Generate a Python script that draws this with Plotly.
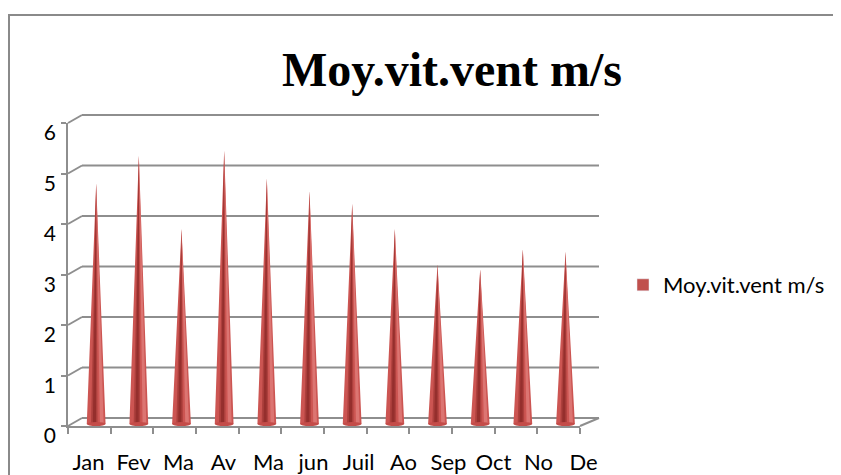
import plotly.graph_objects as go

# ---- data ----
months = ["Jan", "Fev", "Ma", "Av", "Ma", "jun", "Juil", "Ao", "Sep", "Oct", "No", "De"]
wind = [4.8, 5.35, 3.9, 5.45, 4.9, 4.65, 4.4, 3.9, 3.2, 3.1, 3.5, 3.45]
y_ticks = [0, 1, 2, 3, 4, 5, 6]
series_name = "Moy.vit.vent m/s"
title_text = "Moy.vit.vent m/s"

W, H = 841, 475
OFF = 8                                      # page body margin in the browser
PL, PR, PT, PB = 60, 610, 110, 440           # plot (paper) area, screen px
FX0, FX1, FY0, FY1 = 68, 580, 426, 123       # front axes box, screen px
DX_BACK_L, DX_BACK_R, DY_BACK = 82, 599, 8   # back wall
LAB_SHIFT = 10                               # y labels sit a little below ticks


def xp(px):
    return (px - PL) / (PR - PL)


def yp(py):
    return (PB - py) / (PB - PT)


def fy(v):  # data value -> front pixel y
    return FY0 + (FY1 - FY0) * v / 6.0


n = len(months)
CONE_OFF, CONE_W, BASE = 0.16, 0.22, 0.04


def cone_layer(lf, rf):
    xs, ys = [], []
    for i, v in enumerate(wind):
        c = i + CONE_OFF
        xs += [c + lf * CONE_W, c, c + rf * CONE_W, c + lf * CONE_W, None]
        ys += [BASE, v, BASE, BASE, None]
    return xs, ys


fig = go.Figure()

layers = [(-1.0, 1.0, "#cc5552"), (-0.55, 0.15, "#ad403d"), (-0.35, -0.02, "#952f2d"),
          (0.4, 0.8, "#dc7572")]
for lf, rf, col in layers:
    xs, ys = cone_layer(lf, rf)
    fig.add_trace(go.Scatter(x=xs, y=ys, mode="lines", fill="toself", fillcolor=col,
                             line=dict(width=0, color=col), showlegend=False,
                             hoverinfo="skip"))

# legend entry
fig.add_trace(go.Bar(x=[None], y=[None], name=series_name, marker_color="#c0504d",
                     showlegend=True))

# invisible trace for label axes
fig.add_trace(go.Scatter(x=list(range(n)), y=[0] * n, xaxis="x2", yaxis="y2",
                         mode="markers", marker=dict(opacity=0), showlegend=False,
                         hoverinfo="skip"))

shapes = []
GRID = dict(color="#8e8e8e", width=2)
# outer chart border
shapes.append(dict(type="rect", xref="paper", yref="paper",
                   x0=xp(9), x1=xp(870), y0=yp(500), y1=yp(15),
                   line=dict(color="#8a8a8a", width=2), layer="below"))
# back wall gridlines + side-wall connectors
for v in y_ticks:
    y_front = fy(v)
    y_back = y_front - DY_BACK
    shapes.append(dict(type="line", xref="paper", yref="paper",
                       x0=xp(DX_BACK_L), x1=xp(DX_BACK_R), y0=yp(y_back), y1=yp(y_back),
                       line=GRID, layer="below"))
    shapes.append(dict(type="line", xref="paper", yref="paper",
                       x0=xp(FX0), x1=xp(DX_BACK_L), y0=yp(y_front), y1=yp(y_back),
                       line=GRID, layer="below"))
# right floor edge
shapes.append(dict(type="line", xref="paper", yref="paper",
                   x0=xp(FX1), x1=xp(DX_BACK_R), y0=yp(fy(0)), y1=yp(fy(0) - DY_BACK),
                   line=GRID, layer="below"))
# cone base ellipses
for i, v in enumerate(wind):
    c = i + CONE_OFF
    shapes.append(dict(type="circle", xref="x", yref="y", x0=c - CONE_W, x1=c + CONE_W,
                       y0=0.0, y1=BASE * 2, fillcolor="#c44c49", line=dict(width=0)))

fig.update_layout(
    width=W, height=H,
    paper_bgcolor="white", plot_bgcolor="rgba(0,0,0,0)",
    margin=dict(l=PL - OFF, r=W - (PR - OFF), t=PT - OFF, b=H - (PB - OFF),
                autoexpand=False),
    title=dict(text=title_text, x=(452 - OFF) / W, xref="container", xanchor="center",
               y=1 - (69 - OFF) / H, yanchor="middle",
               font=dict(family="Liberation Serif", size=48, color="black", weight="bold")),
    xaxis=dict(domain=[xp(FX0), xp(FX1)], range=[-0.5, n - 0.5],
               tickvals=[i - 0.5 for i in range(n + 1)], showticklabels=False,
               ticks="outside", ticklen=6, tickwidth=2, tickcolor="#8e8e8e",
               showline=True, linecolor="#8e8e8e", linewidth=2, showgrid=False,
               zeroline=False, fixedrange=True),
    yaxis=dict(domain=[yp(FY0), yp(FY1)], range=[0, 6], tickvals=y_ticks,
               ticks="outside", ticklen=5, tickwidth=2, tickcolor="#8e8e8e",
               showline=True, linecolor="#8e8e8e", linewidth=2, showgrid=False,
               zeroline=False, showticklabels=False),
    xaxis2=dict(domain=[xp(66), xp(606)], range=[-0.5, n - 0.5], anchor="y2",
                tickvals=list(range(n)), ticktext=months, ticks="", showline=False,
                showgrid=False, zeroline=False, ticklabelstandoff=11,
                tickfont=dict(family="Lato", size=22, color="black")),
    yaxis2=dict(domain=[yp(FY0 + LAB_SHIFT), yp(FY1 + LAB_SHIFT)], range=[0, 6],
                anchor="free", position=xp(FX0), tickvals=y_ticks, ticks="",
                showline=False, showgrid=False, zeroline=False, ticklabelstandoff=12,
                tickfont=dict(family="Lato", size=21, color="black")),
    shapes=shapes,
    showlegend=True,
    legend=dict(x=xp(623), xanchor="left", y=yp(285), yanchor="middle",
                font=dict(family="Lato", size=22, color="black"),
                bgcolor="rgba(0,0,0,0)", borderwidth=0),
)

fig.write_html("out.html")
